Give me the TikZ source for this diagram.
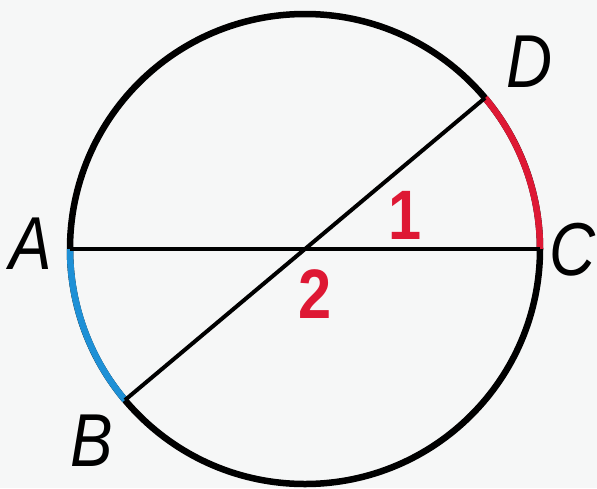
\documentclass[tikz,border=0pt]{standalone}
\usepackage{fontspec}
\usetikzlibrary{calc}
\newfontfamily\lab[FakeStretch=0.85]{Liberation Sans}
\definecolor{bg}{RGB}{246,247,247}
\definecolor{arcred}{RGB}{222,24,52}
\definecolor{arcblue}{RGB}{30,144,214}
\begin{document}
\begin{tikzpicture}[x=1pt,y=1pt,
  circ/.style={line width=6.5pt},
  chord/.style={line width=4pt},
  ptlabel/.style={font=\lab\itshape\fontsize{75}{75}\selectfont, inner sep=0pt},
  numlabel/.style={font=\lab\bfseries\fontsize{70}{70}\selectfont, text=arcred, inner sep=0pt}]
\fill[bg] (0,0) rectangle (597,-488);
\useasboundingbox (0,0) rectangle (597,-488);
\coordinate (O) at (305,-249);
\coordinate (A) at ($(O)+(180:235)$);
\coordinate (C) at ($(O)+(0:235)$);
\coordinate (D) at ($(O)+(40:235)$);
\coordinate (B) at ($(O)+(220:235)$);
% circle
\draw[circ] (O) circle[radius=235];
\draw[circ, arcred] (C) arc[start angle=0, end angle=40, radius=235];
\draw[circ, arcblue] (A) arc[start angle=180, end angle=220, radius=235];
% chords
\draw[chord] (A) -- (C);
\draw[chord] (B) -- (D);
% labels
\node[ptlabel] (lA) at (31,-244) {A};
\node[ptlabel] (lC) at (573,-250) {C};
\node[ptlabel] (lD) at (530,-62) {D};
\node[ptlabel] (lB) at (92,-441) {B};
\node[numlabel] (n1) at (405,-215) {1};
\node[numlabel] (n2) at (315,-294) {2};
\end{tikzpicture}
\end{document}
